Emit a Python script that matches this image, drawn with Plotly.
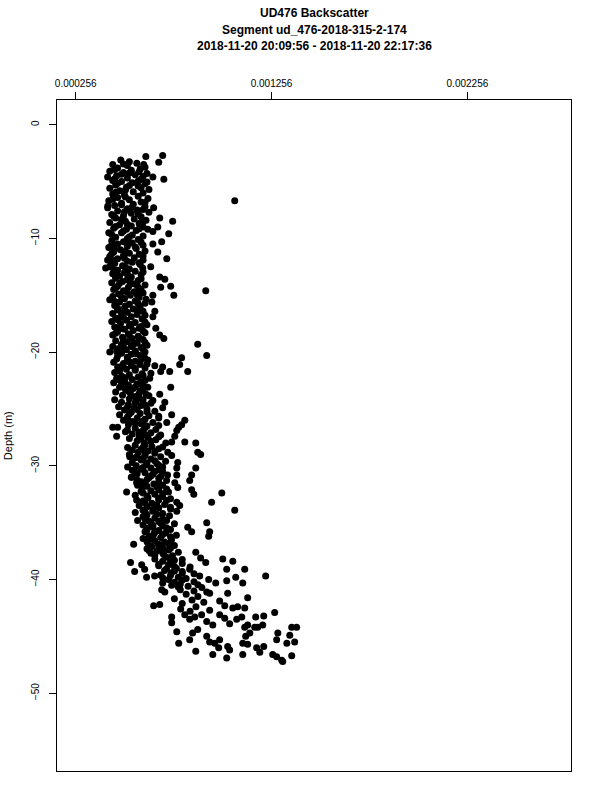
import plotly.graph_objects as go

band_0_6 = [(-2.7, 700), (-2.8, 614), (-3.1, 486), (-3.3, 680), (-3.4, 568), (-3.5, 445), (-3.5, 603), (-3.6, 520),
            (-3.8, 470), (-3.9, 585), (-4.0, 540), (-4.1, 430), (-4.2, 500), (-4.3, 620), (-4.4, 560), (-4.5, 465),
            (-4.6, 419), (-4.6, 650), (-4.7, 520), (-4.8, 706), (-4.8, 590), (-4.9, 445), (-5.0, 490), (-5.1, 545),
            (-5.2, 610), (-5.3, 460), (-5.4, 575), (-5.5, 515), (-5.6, 430), (-5.7, 630), (-5.8, 480), (-5.9, 550),
            (-6.0, 600), (-6.1, 445), (-6.2, 505),
            (-3.25, 530), (-3.45, 500), (-3.75, 610), (-3.95, 455), (-4.15, 580), (-4.35, 490), (-4.55, 600),
            (-4.75, 455), (-4.95, 575), (-5.15, 470), (-5.35, 530), (-5.55, 590), (-5.75, 510), (-5.95, 460),
            (-4.25, 530), (-5.05, 620)]
band_6_10 = [(-6.3, 575), (-6.4, 470), (-6.5, 625), (-6.6, 530), (-6.7, 1068), (-6.7, 425), (-6.8, 590), (-6.9, 490),
             (-7.0, 550), (-7.1, 455), (-7.2, 610), (-7.3, 654), (-7.3, 419), (-7.4, 520), (-7.5, 570), (-7.6, 470),
             (-7.7, 630), (-7.8, 540), (-7.9, 440), (-8.0, 500), (-8.1, 590), (-8.2, 685), (-8.2, 460), (-8.3, 555),
             (-8.4, 615), (-8.5, 751), (-8.5, 510), (-8.6, 430), (-8.7, 580), (-8.8, 480), (-8.9, 540), (-9.0, 675),
             (-9.0, 600), (-9.1, 450), (-9.2, 624), (-9.2, 515), (-9.3, 565), (-9.4, 650), (-9.5, 425), (-9.5, 490),
             (-9.6, 731), (-9.7, 545), (-9.8, 600), (-9.9, 460), (-10.0, 520),
             (-6.35, 510), (-6.55, 445), (-6.85, 610), (-7.05, 490), (-7.25, 545), (-7.45, 600), (-7.65, 505),
             (-7.85, 575), (-8.05, 450), (-8.35, 490), (-8.55, 600), (-8.75, 520), (-8.95, 460), (-9.15, 580),
             (-9.35, 500), (-9.65, 440), (-9.85, 530), (-7.15, 420)]
band_10_13 = [(-10.1, 575), (-10.2, 440), (-10.3, 695), (-10.3, 500), (-10.4, 545), (-10.5, 650), (-10.5, 470),
              (-10.6, 600), (-10.7, 520), (-10.8, 425), (-10.9, 565), (-11.0, 485), (-11.1, 610), (-11.2, 675),
              (-11.2, 450), (-11.3, 530), (-11.4, 580), (-11.5, 500), (-11.6, 430), (-11.7, 555), (-11.8, 721),
              (-11.8, 470), (-11.9, 419), (-11.9, 600), (-12.0, 520), (-12.1, 545), (-12.2, 455), (-12.3, 585),
              (-12.4, 495), (-12.5, 639), (-12.5, 430), (-12.6, 598), (-12.6, 409), (-12.7, 530), (-12.8, 470),
              (-12.9, 560), (-13.0, 505), (-13.1, 445), (-13.2, 590), (-13.3, 480), (-13.4, 540),
              (-10.15, 520), (-10.35, 590), (-10.55, 440), (-10.75, 560), (-10.95, 455), (-11.15, 510),
              (-11.35, 440), (-11.55, 600), (-11.75, 505), (-11.95, 450), (-12.15, 580), (-12.35, 435),
              (-12.55, 510), (-12.75, 450), (-12.95, 600), (-13.15, 520), (-13.35, 460)]
band_13_17 = [(-13.4, 685), (-13.6, 711), (-13.5, 460), (-13.6, 520), (-13.7, 575), (-13.8, 495), (-13.9, 440),
              (-14.0, 550), (-14.1, 610), (-14.2, 741), (-14.2, 470), (-14.3, 690), (-14.3, 525), (-14.4, 580),
              (-14.5, 450), (-14.6, 920), (-14.6, 500), (-14.7, 555), (-14.8, 600), (-14.9, 475), (-15.0, 757),
              (-15.0, 650), (-15.0, 535), (-15.1, 445), (-15.2, 580), (-15.3, 505), (-15.4, 430), (-15.5, 560),
              (-15.6, 645), (-15.6, 480), (-15.7, 610), (-15.8, 530), (-15.9, 455), (-16.0, 585), (-16.1, 505),
              (-16.2, 550), (-16.3, 470), (-16.4, 660), (-16.4, 600), (-16.5, 520), (-16.6, 445), (-16.7, 570),
              (-16.8, 490), (-16.9, 650), (-16.9, 540), (-17.0, 460),
              (-13.55, 590), (-13.75, 530), (-13.95, 480), (-14.15, 570), (-14.35, 460), (-14.55, 590),
              (-14.75, 520), (-14.95, 570), (-15.15, 490), (-15.35, 615), (-15.55, 455), (-15.75, 575),
              (-15.95, 510), (-16.15, 470), (-16.35, 570), (-16.55, 490), (-16.75, 610), (-16.95, 500)]
band_17_20 = [(-17.1, 595), (-17.2, 515), (-17.3, 440), (-17.4, 560), (-17.5, 485), (-17.6, 620), (-17.7, 530),
              (-17.8, 455), (-17.9, 665), (-17.9, 580), (-18.0, 505), (-18.1, 550), (-18.2, 470), (-18.3, 610),
              (-18.4, 525), (-18.5, 685), (-18.5, 445), (-18.6, 575), (-18.7, 495), (-18.8, 706), (-18.8, 545),
              (-18.9, 600), (-19.0, 460), (-19.1, 520), (-19.2, 570), (-19.3, 879), (-19.3, 490), (-19.4, 620),
              (-19.5, 445), (-19.5, 540), (-19.6, 590), (-19.7, 470), (-19.8, 515), (-19.9, 560), (-20.0, 430),
              (-20.0, 610), (-20.1, 490), (-20.2, 540), (-20.3, 925), (-20.3, 585),
              (-17.15, 470), (-17.35, 610), (-17.55, 540), (-17.75, 590), (-17.95, 480), (-18.15, 600),
              (-18.35, 460), (-18.55, 530), (-18.75, 580), (-18.95, 500), (-19.15, 610), (-19.35, 550),
              (-19.55, 500), (-19.75, 600), (-19.95, 465), (-20.15, 565), (-20.35, 470)]
band_20_24 = [(-20.5, 797), (-20.5, 608), (-20.6, 465), (-20.7, 624), (-20.7, 520), (-20.8, 560), (-20.9, 450),
              (-21.0, 500), (-21.1, 787), (-21.1, 585), (-21.2, 660), (-21.2, 540), (-21.3, 700), (-21.3, 470),
              (-21.4, 610), (-21.5, 515), (-21.6, 560), (-21.7, 828), (-21.7, 736), (-21.7, 690), (-21.8, 455),
              (-21.9, 595), (-22.0, 530), (-22.1, 490), (-22.2, 575), (-22.3, 634), (-22.3, 465), (-22.4, 545),
              (-22.5, 610), (-22.6, 505), (-22.7, 450), (-22.8, 570), (-22.9, 525), (-23.0, 600), (-23.1, 741),
              (-23.1, 624), (-23.1, 480), (-23.2, 550), (-23.3, 510), (-23.4, 585), (-23.5, 460), (-23.6, 535),
              (-23.7, 685), (-23.7, 615), (-23.8, 495), (-23.9, 560),
              (-20.45, 520), (-20.65, 590), (-20.85, 530), (-21.05, 620), (-21.25, 490), (-21.45, 560),
              (-21.65, 480), (-21.85, 640), (-22.05, 600), (-22.25, 510), (-22.45, 480), (-22.65, 590),
              (-22.85, 490), (-23.05, 560), (-23.25, 600), (-23.45, 525), (-23.65, 580), (-23.85, 630)]
band_24_28 = [(-24.1, 530), (-24.2, 455), (-24.2, 600), (-24.3, 565), (-24.4, 711), (-24.4, 490), (-24.5, 640),
              (-24.6, 525), (-24.7, 590), (-24.8, 475), (-24.9, 700), (-24.9, 555), (-25.0, 620), (-25.1, 505),
              (-25.2, 660), (-25.3, 540), (-25.4, 585), (-25.5, 746), (-25.5, 480), (-25.6, 630), (-25.7, 520),
              (-25.8, 680), (-25.8, 570), (-25.9, 610), (-26.0, 813), (-26.0, 500), (-26.1, 545), (-26.2, 721),
              (-26.2, 650), (-26.3, 590), (-26.4, 797), (-26.4, 525), (-26.5, 620), (-26.6, 782), (-26.6, 445),
              (-26.6, 470), (-26.7, 560), (-26.8, 665), (-26.9, 772), (-26.9, 600), (-27.0, 510), (-27.1, 640),
              (-27.2, 545), (-27.3, 690), (-27.4, 762), (-27.4, 465), (-27.4, 580), (-27.5, 625), (-27.6, 530),
              (-27.7, 665), (-27.8, 570), (-27.9, 813), (-27.9, 746), (-28.0, 869), (-28.0, 716), (-28.0, 605),
              (-24.05, 580), (-24.25, 650), (-24.45, 560), (-24.65, 610), (-24.85, 520), (-25.05, 570),
              (-25.25, 620), (-25.45, 530), (-25.65, 680), (-25.85, 520), (-26.05, 600), (-26.25, 560),
              (-26.45, 680), (-26.65, 610), (-26.85, 520), (-27.05, 580), (-27.25, 610), (-27.45, 680),
              (-27.65, 590), (-27.85, 640)]
band_28_31 = [(-28.2, 560), (-28.3, 645), (-28.4, 521), (-28.4, 600), (-28.5, 680), (-28.6, 545), (-28.7, 625),
              (-28.8, 879), (-28.8, 726), (-28.8, 575), (-28.9, 660), (-29.0, 894), (-29.0, 530), (-29.1, 746),
              (-29.1, 610), (-29.2, 532), (-29.2, 690), (-29.3, 560), (-29.4, 640), (-29.5, 590), (-29.6, 715),
              (-29.7, 777), (-29.7, 545), (-29.8, 670), (-29.9, 615), (-30.0, 565), (-30.1, 521), (-30.1, 700),
              (-30.2, 772), (-30.2, 869), (-30.2, 640), (-30.3, 590), (-30.4, 545), (-30.5, 700), (-30.5, 660),
              (-30.6, 610), (-30.7, 570), (-30.8, 725), (-30.9, 640), (-31.0, 540),
              (-28.15, 610), (-28.35, 700), (-28.55, 590), (-28.75, 660), (-28.95, 610), (-29.15, 570),
              (-29.35, 600), (-29.55, 660), (-29.75, 620), (-29.95, 680), (-30.15, 600), (-30.35, 680),
              (-30.55, 560), (-30.75, 650), (-30.95, 690)]
band_31_34 = [(-30.8, 848), (-30.8, 772), (-31.0, 542), (-31.1, 680), (-31.2, 620), (-31.3, 838), (-31.3, 720),
              (-31.4, 590), (-31.5, 762), (-31.5, 567), (-31.6, 655), (-31.7, 572), (-31.7, 700), (-31.8, 620),
              (-31.9, 777), (-32.0, 595), (-32.1, 848), (-32.1, 680), (-32.2, 640), (-32.3, 516), (-32.3, 730),
              (-32.4, 1002), (-32.4, 600), (-32.5, 859), (-32.5, 660), (-32.6, 560), (-32.7, 700), (-32.8, 625),
              (-32.9, 740), (-33.0, 567), (-33.0, 680), (-33.1, 600), (-33.2, 950), (-33.2, 772), (-33.3, 645),
              (-33.4, 710), (-33.5, 787), (-33.5, 580), (-33.6, 620), (-33.7, 680), (-33.8, 740), (-33.9, 1068),
              (-33.9, 600), (-34.0, 772), (-34.0, 650), (-34.1, 560), (-34.2, 700), (-34.3, 620), (-34.4, 735),
              (-31.05, 630), (-31.25, 570), (-31.45, 680), (-31.65, 610), (-31.85, 670), (-32.05, 720),
              (-32.25, 590), (-32.45, 700), (-32.65, 620), (-32.85, 680), (-33.05, 720), (-33.25, 610),
              (-33.45, 670), (-33.65, 740), (-33.85, 650), (-34.05, 610), (-34.25, 670), (-34.45, 600)]
band_34_38 = [(-34.6, 660), (-34.7, 610), (-34.8, 572), (-34.8, 720), (-34.9, 680), (-35.0, 925), (-35.0, 640),
              (-35.1, 760), (-35.2, 600), (-35.3, 700), (-35.4, 828), (-35.4, 650), (-35.5, 620), (-35.6, 740),
              (-35.7, 680), (-35.8, 940), (-35.8, 848), (-35.8, 610), (-35.9, 715), (-36.0, 655), (-36.1, 770),
              (-36.2, 935), (-36.2, 630), (-36.3, 690), (-36.4, 600), (-36.5, 745), (-36.6, 660), (-36.7, 710),
              (-36.8, 625), (-36.9, 552), (-36.9, 680), (-37.0, 760), (-37.1, 645), (-37.2, 700), (-37.3, 620),
              (-37.4, 730), (-37.5, 670), (-37.6, 869), (-37.6, 780), (-37.7, 640), (-37.8, 705), (-37.9, 750),
              (-34.65, 700), (-34.85, 630), (-35.05, 690), (-35.25, 650), (-35.45, 720), (-35.65, 620),
              (-35.85, 660), (-36.05, 700), (-36.25, 740), (-36.45, 650), (-36.65, 620), (-36.85, 730),
              (-37.05, 680), (-37.25, 740), (-37.45, 630), (-37.65, 700), (-37.85, 660)]
band_38_41 = [(-38.1, 894), (-38.2, 1007), (-38.2, 660), (-38.3, 760), (-38.4, 1058), (-38.4, 700), (-38.5, 920),
              (-38.5, 536), (-38.6, 800), (-38.7, 593), (-38.7, 730), (-38.8, 680), (-38.9, 840), (-39.0, 770),
              (-39.1, 1027), (-39.1, 1119), (-39.1, 838), (-39.1, 608), (-39.2, 710), (-39.3, 557), (-39.3, 800),
              (-39.4, 745), (-39.5, 860), (-39.6, 690), (-39.7, 889), (-39.7, 659), (-39.7, 1226), (-39.8, 618),
              (-39.8, 1073), (-39.8, 780), (-39.9, 820), (-40.0, 935), (-40.0, 730), (-40.1, 1027), (-40.2, 860),
              (-40.3, 971), (-40.3, 1109), (-40.3, 700), (-40.4, 790), (-40.5, 746), (-40.6, 830), (-40.7, 900),
              (-40.9, 695), (-40.9, 790), (-41.0, 860), (-41.1, 711), (-41.2, 940),
              (-38.05, 720), (-38.25, 800), (-38.45, 740), (-38.65, 680), (-38.85, 760), (-39.05, 720),
              (-39.25, 760), (-39.45, 800), (-39.65, 740), (-39.85, 700), (-40.05, 800), (-40.25, 760),
              (-40.45, 880), (-40.65, 780)]
band_41_44 = [(-41.1, 925), (-41.2, 1032), (-41.3, 820), (-41.5, 880), (-41.6, 1134), (-41.7, 760), (-41.8, 850),
              (-41.9, 991), (-42.0, 910), (-42.1, 800), (-42.2, 685), (-42.3, 654), (-42.3, 1017), (-42.4, 1083),
              (-42.4, 870), (-42.5, 1058), (-42.5, 1119), (-42.6, 792), (-42.7, 940), (-42.8, 840), (-42.9, 1272),
              (-43.1, 813), (-43.1, 899), (-43.1, 991), (-43.2, 1216), (-43.3, 864), (-43.3, 746), (-43.3, 1104),
              (-43.3, 1175), (-43.4, 1017), (-43.5, 838), (-43.5, 1078), (-43.7, 925), (-43.8, 746), (-43.9, 1042),
              (-44.0, 956), (-44.0, 1134), (-44.0, 1211), (-44.2, 1119), (-44.2, 1170), (-44.2, 1185), (-44.2, 1359),
              (-44.2, 1384)]
band_44_48 = [(-44.4, 879), (-44.6, 772), (-44.7, 853), (-44.7, 1145), (-44.7, 1288), (-44.9, 1349), (-45.0, 925),
              (-45.0, 1124), (-45.3, 991), (-45.3, 838), (-45.3, 1282), (-45.5, 940), (-45.5, 1374), (-45.6, 966),
              (-45.6, 782), (-45.6, 1109), (-45.6, 1334), (-45.7, 1134), (-45.9, 1032), (-45.9, 1216), (-46.0, 986),
              (-46.0, 1180), (-46.2, 1042), (-46.3, 869), (-46.4, 1196), (-46.6, 956), (-46.6, 1109), (-46.6, 1262),
              (-46.7, 1359), (-46.8, 1282), (-46.9, 1027), (-47.1, 1308), (-47.2, 1313)]

bands = [band_0_6, band_6_10, band_10_13, band_13_17, band_17_20, band_20_24, band_24_28,
         band_28_31, band_31_34, band_34_38, band_38_41, band_41_44, band_44_48]

depth_m = [d for band in bands for d, _ in band]
backscatter = [b * 1e-6 for band in bands for _, b in band]

x_tick_values = [0.000256, 0.001256, 0.002256]
x_tick_labels = ["0.000256", "0.001256", "0.002256"]
y_tick_values = [0, -10, -20, -30, -40, -50]
x_range = [0.0001605, 0.002785]
y_range = [-56.84, 2.17]

title_lines = ["UD476 Backscatter",
               "Segment ud_476-2018-315-2-174",
               "2018-11-20 20:09:56 - 2018-11-20 22:17:36"]

FONT = "Liberation Sans, Arial, Helvetica, sans-serif"

fig = go.Figure(go.Scatter(
    x=backscatter, y=depth_m, mode="markers",
    marker=dict(color="black", size=7, line=dict(width=0)),
    hoverinfo="skip", showlegend=False,
))

axis_common = dict(showline=True, mirror=True, linecolor="black", linewidth=1,
                   showgrid=False, zeroline=False, ticks="outside", ticklen=7,
                   tickwidth=1, tickcolor="black",
                   tickfont=dict(family=FONT, size=10, color="black"))

fig.update_layout(
    width=600, height=800,
    margin=dict(l=57, r=29, t=100, b=29, autoexpand=False),
    paper_bgcolor="white", plot_bgcolor="white",
    font=dict(family=FONT, color="black"),
    xaxis=dict(range=x_range, side="top", tickmode="array",
               tickvals=x_tick_values, ticktext=x_tick_labels,
               ticklabelstandoff=1, **axis_common),
    yaxis=dict(range=y_range, tickmode="array", tickvals=y_tick_values,
               tickangle=-90, ticklabelstandoff=6, **axis_common),
)

title_y = [1.130, 1.105, 1.080]
for text, yy in zip(title_lines, title_y):
    fig.add_annotation(text=f"<b>{text}</b>", xref="paper", yref="paper",
                       x=0.5, y=yy, xanchor="center", yanchor="middle",
                       showarrow=False, font=dict(family=FONT, size=12, color="black"))

fig.add_annotation(text="Depth (m)", xref="paper", yref="paper",
                   x=-0.096, y=0.5, xanchor="center", yanchor="middle",
                   textangle=-90, showarrow=False,
                   font=dict(family=FONT, size=11, color="black"))

fig.write_html(
    "out.html",
    config={"displayModeBar": False, "staticPlot": True},
    post_script="document.body.style.margin='0';document.body.style.overflow='hidden';",
)
